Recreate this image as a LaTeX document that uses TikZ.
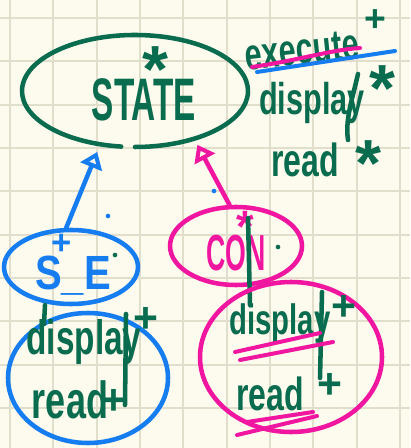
\documentclass[tikz,border=0pt]{standalone}
\usepackage{fontspec}
\setmainfont{Liberation Sans}
\usetikzlibrary{shapes.geometric,arrows.meta}
\definecolor{paper}{RGB}{253,251,238}
\definecolor{gridc}{RGB}{226,222,204}
\definecolor{ink}{RGB}{10,108,78}
\definecolor{bl}{RGB}{22,125,240}
\definecolor{mg}{RGB}{240,22,160}
\newcommand{\hw}[2][1.45]{\scalebox{1}[#1]{#2}}
\newcommand{\fsz}[1]{\fontsize{#1}{#1}\selectfont\bfseries}
\begin{document}
\begin{tikzpicture}[x=0.75pt,y=-0.75pt,
  oval/.style={ellipse,draw,line width=3.4pt,inner sep=0pt},
  word/.style={text=ink,inner sep=0pt},
  star/.style={text=ink,inner sep=0pt,anchor=base,font=\fsz{50}},
  plus/.style={text=ink,inner sep=0pt,font=\fsz{32}},
  stroke/.style={line width=3.4pt,line cap=round},
  uline/.style={line width=3pt,line cap=round},
  dot/.style={circle,fill,inner sep=0pt,minimum size=3.5pt},
  head/.style={-{Triangle[open,length=12pt,width=17pt]}}
]
\fill[paper] (0,0) rectangle (410,448);
\useasboundingbox (0,0) rectangle (410,448);
\foreach \i in {0,...,9}{
  \draw[gridc,line width=1.3pt] ({10+43.33*\i},0) -- ({10+43.33*\i},448);
  \draw[gridc,line width=1.3pt] (0,{18+43.33*\i}) -- (410,{18+43.33*\i});
}
% STATE
\node[ellipse,inner sep=0pt,minimum width=169.5pt,minimum height=84pt] (state) at (135,91) {};
\draw[ink,stroke] (state.center) ++(97:113 and 56) arc[start angle=97,end angle=450,x radius=113,y radius=56];
\node[word,font=\fsz{25}] (statetxt) at (144,100) {\hw[1.8]{STATE}};
\node[star] (statestar) at (155,93) {*};
% right list
\node[word,font=\fsz{23},rotate=6] (exec) at (302,50) {\hw{execute}};
\node[plus,font=\fsz{28}] (execp) at (375,21) {+};
\node[word,font=\fsz{23}] (disp) at (312,103) {\hw{display}};
\node[star] (dispst) at (382,112) {*};
\node[word,font=\fsz{24}] (read) at (305,160) {\hw{read}};
\node[star] (readst) at (368,187) {*};
\draw[mg,uline] (252,67) .. controls (300,60) and (330,50) .. (360,48);
\draw[bl,uline] (257,72) -- (395,51);
\draw[ink,stroke] (358,74) .. controls (352,100) and (345,120) .. (348,140);
% S+E
\node[oval,bl,minimum width=100.5pt,minimum height=55.5pt] (se) at (71,267) {};
\node[font=\fsz{30},text=bl,inner sep=0pt] (setxt) at (73,276) {\hw[1.2]{S\_E}};
\node[plus,text=bl,font=\fsz{26}] (seplus) at (62,244) {+};
% CON
\node[oval,mg,minimum width=99pt,minimum height=58.5pt] (con) at (236,246) {};
\node[font=\fsz{20},text=mg,inner sep=0pt] (contxt) at (236,253) {\hw[1.9]{CON}};
\node[star,text=mg,font=\fsz{34}] (constar) at (245,243) {*};
\draw[ink,stroke] (248,218) -- (250,305);
% arrows
\draw[bl,stroke,head,shorten >=6pt] (se.97) -- (state.-123);
\draw[mg,stroke,head,shorten >=5pt] (con.99) -- (state.-39);
% dots
\node[dot,bl] (d1) at (108,216) {};
\node[dot,bl] (d2) at (214,191) {};
\node[dot,ink] (d3) at (115,255) {};
\node[dot,ink] (d4) at (278,247) {};
% bottom left group
\node[oval,bl,minimum width=120pt,minimum height=97.5pt] (lgrp) at (88,378) {};
\draw[ink,stroke] (45,305) -- (44,324);
\node[word,font=\fsz{25}] (disp2) at (84,342) {\hw{display}};
\node[plus] (disp2p) at (146,320) {+};
\node[word,font=\fsz{27}] (read2) at (70,400) {\hw{read}};
\node[plus] (read2p) at (114,402) {+};
\draw[ink,stroke] (126,314) -- (125,405);
% bottom right group
\node[oval,mg,minimum width=136.5pt,minimum height=112.5pt] (rgrp) at (291,357) {};
\node[word,font=\fsz{22}] (disp3) at (280,324) {\hw{display}};
\node[plus] (disp3p) at (344,308) {+};
\node[word,font=\fsz{24}] (read3) at (270,394) {\hw{read}};
\node[plus] (read3p) at (330,386) {+};
\draw[ink,stroke] (322,292) -- (320,378);
\draw[mg,uline] (235,352) -- (320,333);
\draw[mg,uline] (240,360) -- (333,342);
\draw[mg,uline] (247,422) -- (313,412);
\draw[mg,uline] (237,435) -- (317,416);
\end{tikzpicture}
\end{document}
